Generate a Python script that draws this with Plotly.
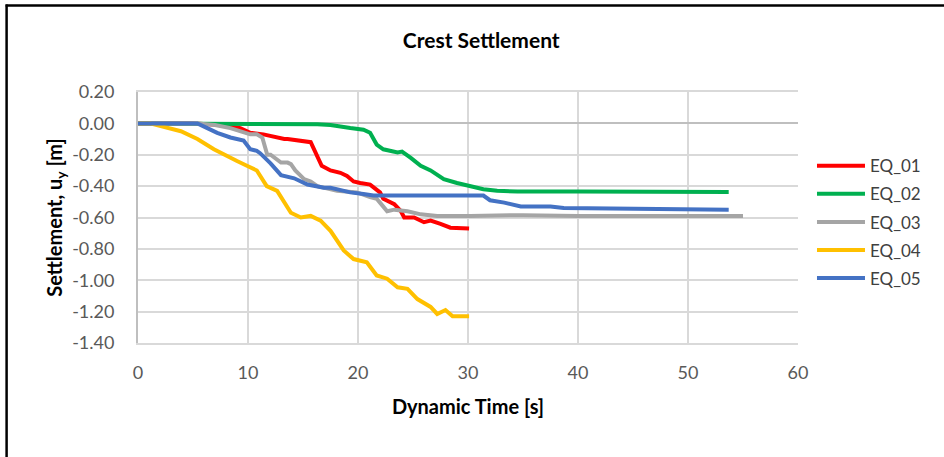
import plotly.graph_objects as go

# ---- data ----
t_eq01 = [0, 5, 7.8, 9.3, 10.2, 11.4, 13.3, 13.6, 15.7, 16.1, 16.7, 17.5, 18.4, 19.0, 19.6, 20.2, 21.1, 22.0, 22.3, 23.3, 23.9, 24.2, 25.1, 26.0, 26.6, 27.5, 28.4, 30.1]
u_eq01 = [0, 0, -0.01, -0.03, -0.06, -0.07, -0.10, -0.10, -0.12, -0.18, -0.27, -0.30, -0.315, -0.335, -0.37, -0.38, -0.39, -0.44, -0.48, -0.515, -0.56, -0.60, -0.60, -0.63, -0.62, -0.64, -0.665, -0.67]

t_eq02 = [0, 5, 10.2, 16.3, 17.5, 18.7, 19.3, 20.5, 20.8, 21.1, 21.7, 22.3, 23.6, 24.0, 24.8, 25.7, 26.6, 27.8, 29.0, 30.2, 31.4, 32.65, 34.5, 40, 45, 50, 53.7]
u_eq02 = [0, 0, 0, -0.005, -0.01, -0.025, -0.03, -0.04, -0.05, -0.06, -0.135, -0.165, -0.185, -0.18, -0.22, -0.27, -0.30, -0.355, -0.38, -0.40, -0.42, -0.43, -0.435, -0.435, -0.437, -0.435, -0.437]

t_eq03 = [0, 5.4, 7, 8.4, 10.2, 10.8, 11.3, 11.75, 12.05, 12.65, 13.0, 13.6, 13.9, 14.3, 15.1, 15.7, 16.3, 18.1, 19.9, 21.1, 21.7, 22.0, 22.65, 23.3, 24.5, 25.7, 27.2, 30.2, 35, 40, 45, 50, 55]
u_eq03 = [0, 0, -0.01, -0.03, -0.07, -0.07, -0.09, -0.20, -0.20, -0.23, -0.25, -0.25, -0.26, -0.30, -0.355, -0.37, -0.40, -0.43, -0.44, -0.47, -0.48, -0.505, -0.56, -0.55, -0.56, -0.58, -0.59, -0.59, -0.585, -0.59, -0.59, -0.59, -0.59]

t_eq04 = [0, 1.1, 3.9, 5.4, 6.9, 8.1, 9.0, 9.9, 10.8, 11.7, 12.3, 12.65, 13.9, 14.8, 15.7, 16.6, 17.5, 18.7, 19.6, 20.8, 21.7, 22.65, 23.6, 24.5, 25.4, 26.6, 27.2, 27.95, 28.6, 30.1]
u_eq04 = [0, 0, -0.05, -0.10, -0.165, -0.21, -0.24, -0.27, -0.30, -0.40, -0.42, -0.43, -0.57, -0.60, -0.59, -0.62, -0.685, -0.81, -0.865, -0.885, -0.97, -0.99, -1.045, -1.055, -1.12, -1.17, -1.215, -1.19, -1.23, -1.23]

t_eq05 = [0, 5.4, 6.3, 7.2, 8.4, 9.6, 10.2, 10.8, 11.1, 12.05, 13.0, 14.2, 15.4, 16.9, 17.5, 18.7, 19.3, 20.5, 21.4, 23.5, 27, 31.4, 32.0, 33.3, 34.8, 37.5, 38.7, 45, 50, 53.7]
u_eq05 = [0, 0, -0.03, -0.06, -0.09, -0.11, -0.165, -0.175, -0.19, -0.255, -0.33, -0.35, -0.39, -0.41, -0.41, -0.43, -0.44, -0.45, -0.46, -0.46, -0.46, -0.46, -0.49, -0.505, -0.53, -0.53, -0.54, -0.545, -0.547, -0.55]

series_names = ["EQ_01", "EQ_02", "EQ_03", "EQ_04", "EQ_05"]
series_colors = ["#FF0000", "#00B050", "#A5A5A5", "#FFC000", "#4472C4"]
series_t = [t_eq01, t_eq02, t_eq03, t_eq04, t_eq05]
series_u = [u_eq01, u_eq02, u_eq03, u_eq04, u_eq05]

y_tickvals = [0.2, 0.0, -0.2, -0.4, -0.6, -0.8, -1.0, -1.2, -1.4]
y_ticktext = ["0.20", "0.00", "-0.20", "-0.40", "-0.60", "-0.80", "-1.00", "-1.20", "-1.40"]
x_tickvals = [0, 10, 20, 30, 40, 50, 60]

# ---- layout geometry ----
W, H = 944, 457
L, R, T, B = 137.5, 146, 91.7, 113.7
PW, PH = W - L - R, H - T - B
FONT = "Lato"

fig = go.Figure()
for name, col, tt, uu in zip(series_names, series_colors, series_t, series_u):
    fig.add_trace(go.Scatter(x=tt, y=uu, mode="lines", name=name, legendgroup=name,
                             line=dict(color=col, width=4)))

def px_x(p):
    return (p - L) / PW

def px_y(p):
    return 1 - (p - T) / PH

fig.update_layout(
    width=W, height=H,
    margin=dict(l=L, r=R, t=T, b=B, autoexpand=False),
    paper_bgcolor="white", plot_bgcolor="white",
    font=dict(family=FONT, color="#595959", size=18),
    title=dict(text="<b>Crest Settlement</b>", x=px_x(481), xanchor="center", xref="paper",
               y=1 - 41 / H, yanchor="middle", font=dict(size=21, color="#000000")),
    showlegend=True,
    legend=dict(x=px_x(812), y=px_y(148), xanchor="left", yanchor="top",
                font=dict(size=17, color="#404040"), tracegroupgap=3, itemwidth=48,
                bgcolor="rgba(0,0,0,0)"),
    xaxis=dict(range=[0, 60], tickvals=x_tickvals, showgrid=True, gridcolor="#D9D9D9", gridwidth=2,
               zeroline=False, showline=True, linecolor="#D9D9D9", linewidth=2, mirror=True,
               ticks="", ticklabelstandoff=12,
               title=dict(text="<b>Dynamic Time [s]</b>", font=dict(size=20, color="#000000"), standoff=18)),
    yaxis=dict(range=[-1.4, 0.2], tickvals=y_tickvals, ticktext=y_ticktext, showgrid=True,
               gridcolor="#D9D9D9", gridwidth=2, zeroline=True, zerolinecolor="#BFBFBF", zerolinewidth=2,
               showline=True, linecolor="#BFBFBF", linewidth=2, mirror=False,
               ticks="", ticklabelstandoff=18,
               title=dict(text="<b>Settlement, u<sub>y</sub> [m]</b>", font=dict(size=20, color="#000000"), standoff=4)),
    shapes=[
        dict(type="line", xref="paper", yref="paper", x0=px_x(6), x1=px_x(6), y0=px_y(470), y1=px_y(4),
             line=dict(color="black", width=2.5)),
        dict(type="line", xref="paper", yref="paper", x0=px_x(5), x1=px_x(960), y0=px_y(5), y1=px_y(5),
             line=dict(color="black", width=2.5)),
    ],
)

fig.write_html("out.html", config={"displayModeBar": False},
               post_script="document.body.style.margin='0';document.body.style.padding='0';document.body.style.overflow='hidden';")
